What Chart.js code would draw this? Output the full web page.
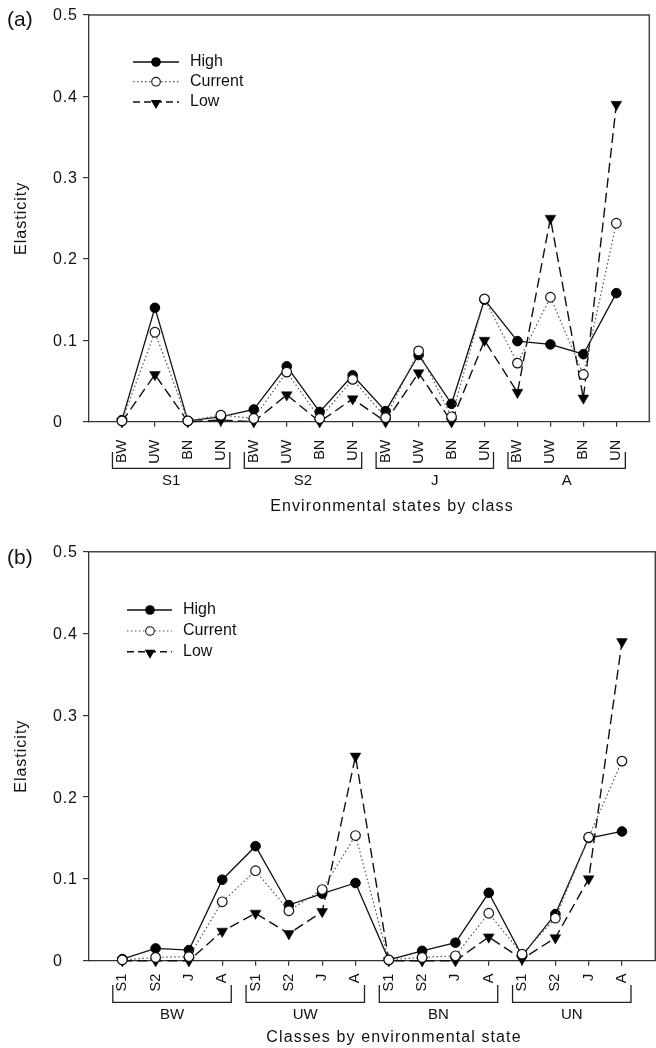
<!DOCTYPE html>
<html><head><meta charset="utf-8">
<script src="https://cdn.jsdelivr.net/npm/chart.js@4.4.1/dist/chart.umd.min.js"></script>
<style>
html,body{margin:0;padding:0;background:#fff;overflow:hidden;width:656px;height:1048px;}
#wa{position:absolute;left:0;top:0;width:656px;height:524px;}
#wb{position:absolute;left:0;top:524px;width:662px;height:524px;}
canvas{display:block;}
</style></head><body>
<div id="wa"><canvas id="ca" width="656" height="524"></canvas></div>
<div id="wb"><canvas id="cb" width="662" height="524"></canvas></div>
<script>
// ---------- data ----------
const seriesNames = ['High', 'Current', 'Low'];
const yTickValues = [0, 0.1, 0.2, 0.3, 0.4, 0.5];
const yTickLabels = ['0', '0.1', '0.2', '0.3', '0.4', '0.5'];

// Panel (a): environmental states by class
const panelLabelA = '(a)';
const xTitleA = 'Environmental states by class';
const tickLabelsA = ['BW','UW','BN','UN','BW','UW','BN','UN','BW','UW','BN','UN','BW','UW','BN','UN'];
const groupsA = ['S1', 'S2', 'J', 'A'];
const highA    = [0.002,0.140,0.001,0.006, 0.015,0.068,0.012,0.057, 0.013,0.082,0.022,0.150, 0.099,0.095,0.083,0.158];
const currentA = [0.001,0.110,0.001,0.008, 0.004,0.061,0.004,0.052, 0.005,0.087,0.006,0.151, 0.072,0.153,0.058,0.244];
const lowA     = [0.000,0.058,0.000,0.002, 0.000,0.033,0.000,0.028, 0.000,0.060,0.000,0.100, 0.036,0.250,0.029,0.390];

// Panel (b): classes by environmental state
const panelLabelB = '(b)';
const xTitleB = 'Classes by environmental state';
const tickLabelsB = ['S1','S2','J','A','S1','S2','J','A','S1','S2','J','A','S1','S2','J','A'];
const groupsB = ['BW', 'UW', 'BN', 'UN'];
const highB    = [0.002,0.015,0.013,0.099, 0.140,0.068,0.082,0.095, 0.001,0.012,0.022,0.083, 0.006,0.057,0.150,0.158];
const currentB = [0.001,0.004,0.005,0.072, 0.110,0.061,0.087,0.153, 0.001,0.004,0.006,0.058, 0.008,0.052,0.151,0.244];
const lowB     = [0.000,0.000,0.000,0.036, 0.058,0.033,0.060,0.250, 0.000,0.000,0.000,0.029, 0.002,0.028,0.100,0.390];

// ---------- rendering ----------
const FONT = '"Liberation Sans", Arial, Helvetica, sans-serif';
Chart.defaults.font.family = FONT;
Chart.defaults.color = '#111';

function pts(vals) { return vals.map((v, i) => ({ x: i, y: v })); }

function drawTri(ctx, x, y, r) {
  ctx.beginPath();
  ctx.moveTo(x - r * 0.866, y - r * 0.5);
  ctx.lineTo(x + r * 0.866, y - r * 0.5);
  ctx.lineTo(x, y + r);
  ctx.closePath();
  ctx.fill();
}

function makePanel(canvasId, cfg) {
  const deco = {
    id: 'deco',
    afterDraw(chart) {
      const ctx = chart.ctx, ca = chart.chartArea, xs = chart.scales.x, ys = chart.scales.y;
      ctx.save();
      // frame (top + right)
      ctx.strokeStyle = '#444'; ctx.lineWidth = 1.5;
      ctx.beginPath();
      ctx.moveTo(ca.left, ca.top); ctx.lineTo(ca.right, ca.top); ctx.lineTo(ca.right, ca.bottom);
      ctx.stroke();
      // y tick labels
      ctx.fillStyle = '#111';
      ctx.font = '16px ' + FONT;
      ctx.textAlign = 'left'; ctx.textBaseline = 'middle';
      ctx.letterSpacing = '0.8px';
      yTickValues.forEach((v, i) => {
        ctx.fillText(yTickLabels[i], 53, ys.getPixelForValue(v) + 1);
      });
      ctx.letterSpacing = '0px';
      // brackets + group labels
      ctx.strokeStyle = '#222'; ctx.lineWidth = 1.3;
      ctx.font = '15px ' + FONT;
      ctx.textAlign = 'center';
      cfg.groups.forEach((g, k) => {
        const x0 = xs.getPixelForValue(4 * k) - 9.5;
        const x1 = xs.getPixelForValue(4 * k + 3) + 9;
        ctx.beginPath();
        ctx.moveTo(x0, cfg.brTop); ctx.lineTo(x0, cfg.brLine); ctx.lineTo(x1, cfg.brLine); ctx.lineTo(x1, cfg.brTop);
        ctx.stroke();
        ctx.fillText(g, (x0 + x1) / 2, cfg.groupY);
      });
      // x title
      ctx.font = '16px ' + FONT;
      ctx.letterSpacing = '1.1px';
      ctx.fillText(cfg.xTitle, cfg.titleX, cfg.titleY);
      // y title
      ctx.save();
      ctx.translate(22, (ca.top + ca.bottom) / 2);
      ctx.rotate(-Math.PI / 2);
      ctx.letterSpacing = '1px';
      ctx.fillText('Elasticity', 0, 0);
      ctx.restore();
      ctx.letterSpacing = '0px';
      // panel label
      ctx.font = '21px ' + FONT;
      ctx.textAlign = 'left';
      ctx.fillText(cfg.panel, 7, cfg.panelY);
      // legend
      const L = cfg.legend;
      ctx.font = '16px ' + FONT;
      const styles = [
        { dash: [], color: '#111', w: 1.3 },
        { dash: [1.5, 2.5], color: '#555', w: 1.2 },
        { dash: [7, 4], color: '#111', w: 1.4 }
      ];
      seriesNames.forEach((name, i) => {
        const y = L.rows[i], s = styles[i];
        ctx.setLineDash(s.dash); ctx.strokeStyle = s.color; ctx.lineWidth = s.w;
        ctx.beginPath(); ctx.moveTo(L.x0, y); ctx.lineTo(L.x1, y); ctx.stroke();
        ctx.setLineDash([]);
        if (i === 0) {
          ctx.fillStyle = '#000'; ctx.beginPath(); ctx.arc(L.xm, y, 4.8, 0, Math.PI * 2); ctx.fill();
        } else if (i === 1) {
          ctx.fillStyle = '#fff'; ctx.strokeStyle = '#111'; ctx.lineWidth = 1.1;
          ctx.beginPath(); ctx.arc(L.xm, y, 4.3, 0, Math.PI * 2); ctx.fill(); ctx.stroke();
        } else {
          ctx.fillStyle = '#000'; drawTri(ctx, L.xm, y + 1, 6);
        }
        ctx.fillStyle = '#111';
        ctx.fillText(name, L.xt, y);
      });
      ctx.restore();
    }
  };

  return new Chart(document.getElementById(canvasId), {
    type: 'line',
    data: {
      datasets: [
        { label: seriesNames[1], data: pts(cfg.current), order: 1,
          borderColor: '#555', borderWidth: 1.2, borderDash: [1.5, 2.5],
          pointStyle: 'circle', pointRadius: 4.8, pointBackgroundColor: '#fff',
          pointBorderColor: '#111', pointBorderWidth: 1.2, clip: false },
        { label: seriesNames[0], data: pts(cfg.high), order: 2,
          borderColor: '#111', borderWidth: 1.3,
          pointStyle: 'circle', pointRadius: 4.8, pointBackgroundColor: '#000',
          pointBorderColor: '#000', pointBorderWidth: 1, clip: false },
        { label: seriesNames[2], data: pts(cfg.low), order: 3,
          borderColor: '#111', borderWidth: 1.4, borderDash: [10, 5],
          pointStyle: 'triangle', pointRotation: 180, pointRadius: 6.2, pointBackgroundColor: '#000',
          pointBorderColor: '#000', pointBorderWidth: 0.5, clip: false }
      ]
    },
    options: {
      responsive: false, animation: false, devicePixelRatio: 1,
      layout: { padding: { left: 53, top: cfg.top, right: cfg.right, bottom: 0 } },
      plugins: { legend: { display: false }, tooltip: { enabled: false } },
      elements: { line: { tension: 0 } },
      scales: {
        x: {
          type: 'linear', min: -1, max: 16,
          afterBuildTicks: s => { s.ticks = cfg.tickLabels.map((_, i) => ({ value: i })); },
          afterFit: s => { s.height = cfg.xHeight; },
          ticks: { minRotation: 90, maxRotation: 90, autoSkip: false, padding: cfg.tickPad,
                   font: { size: 14.5 }, color: '#111',
                   callback: v => cfg.tickLabels[v] },
          grid: { display: true, drawOnChartArea: false, drawTicks: true, tickLength: 5, color: '#333', lineWidth: 1.2 },
          border: { display: true, color: '#333', width: 1.3 }
        },
        y: {
          type: 'linear', min: 0, max: 0.5,
          afterBuildTicks: s => { s.ticks = yTickValues.map(v => ({ value: v })); },
          afterFit: s => { s.width = 36; },
          ticks: { display: false },
          grid: { display: true, drawOnChartArea: false, drawTicks: true, tickLength: 6, color: '#333', lineWidth: 1.2 },
          border: { display: true, color: '#333', width: 1.3 }
        }
      }
    },
    plugins: [deco]
  });
}

makePanel('ca', {
  high: highA, current: currentA, low: lowA, tickLabels: tickLabelsA, groups: groupsA,
  xTitle: xTitleA, panel: panelLabelA,
  top: 15, right: 1, xHeight: 102.3, tickPad: 13,
  brTop: 452, brLine: 468.3, groupY: 481, titleX: 392, titleY: 507, panelY: 20,
  legend: { rows: [62, 81.7, 102], x0: 133, x1: 179, xm: 156, xt: 190 }
});
makePanel('cb', {
  high: highB, current: currentB, low: lowB, tickLabels: tickLabelsB, groups: groupsB,
  xTitle: xTitleB, panel: panelLabelB,
  top: 27.7, right: 2, xHeight: 87.3, tickPad: 8,
  brTop: 461, brLine: 478.3, groupY: 490.5, titleX: 394, titleY: 514, panelY: 34.5,
  legend: { rows: [86, 107, 127.7], x0: 127, x1: 172, xm: 150, xt: 183 }
});
</script>
</body></html>
